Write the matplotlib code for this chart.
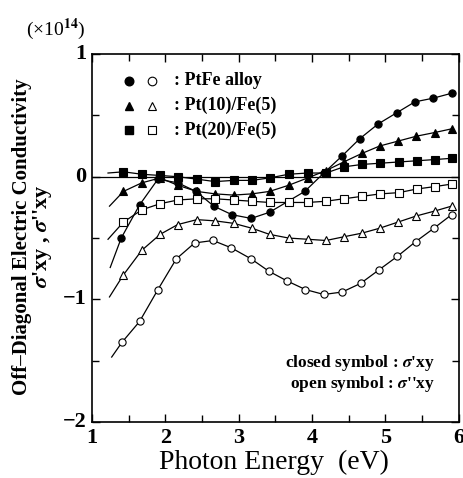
import matplotlib
matplotlib.use("Agg")
import matplotlib.pyplot as plt
from matplotlib.ticker import MultipleLocator

plt.rcParams["font.family"] = ["Liberation Serif", "DejaVu Serif"]
plt.rcParams["font.weight"] = "bold"
plt.rcParams["mathtext.fontset"] = "stix"

# PtFe alloy (first point = start of fitted curve, no marker)
ptfe_e1 = [1.25, 1.40, 1.65, 1.90, 2.17, 2.42, 2.66, 2.91, 3.17, 3.42, 3.90, 4.16,
           4.41, 4.65, 4.90, 5.15, 5.40, 5.65, 5.90]
ptfe_re = [-0.74, -0.50, -0.23, -0.02, -0.05, -0.12, -0.24, -0.31, -0.34, -0.29, -0.12, 0.03,
           0.17, 0.31, 0.43, 0.52, 0.61, 0.64, 0.68]
ptfe_e2 = [1.27, 1.41, 1.65, 1.90, 2.15, 2.40, 2.65, 2.90, 3.17, 3.41, 3.66, 3.91, 4.16,
           4.41, 4.66, 4.91, 5.16, 5.41, 5.66, 5.90]
ptfe_im = [-1.47, -1.35, -1.18, -0.92, -0.67, -0.54, -0.52, -0.58, -0.67, -0.77, -0.85, -0.92, -0.96,
           -0.94, -0.87, -0.76, -0.65, -0.53, -0.42, -0.31]

# Pt(10)/Fe(5)
pt10_e = [1.24, 1.43, 1.68, 1.93, 2.17, 2.43, 2.68, 2.93, 3.18, 3.42, 3.68, 3.94, 4.19,
          4.43, 4.68, 4.92, 5.17, 5.42, 5.67, 5.90]
pt10_re = [-0.24, -0.12, -0.05, -0.01, -0.07, -0.12, -0.14, -0.15, -0.14, -0.12, -0.07, -0.01, 0.05,
           0.12, 0.19, 0.25, 0.29, 0.33, 0.36, 0.39]
pt10_im = [-0.98, -0.80, -0.60, -0.47, -0.39, -0.35, -0.36, -0.38, -0.42, -0.47, -0.50, -0.51, -0.52,
           -0.49, -0.46, -0.42, -0.37, -0.32, -0.28, -0.24]

# Pt(20)/Fe(5)
pt20_e = [1.22, 1.43, 1.68, 1.93, 2.17, 2.43, 2.68, 2.93, 3.18, 3.42, 3.68, 3.94, 4.19,
          4.43, 4.68, 4.93, 5.18, 5.43, 5.68, 5.90]
pt20_re = [0.03, 0.04, 0.02, 0.01, 0.00, -0.02, -0.04, -0.03, -0.03, -0.01, 0.02, 0.03, 0.03,
           0.08, 0.10, 0.11, 0.12, 0.13, 0.14, 0.15]
pt20_im = [-0.51, -0.37, -0.27, -0.22, -0.19, -0.18, -0.18, -0.19, -0.20, -0.21, -0.21, -0.21, -0.20,
           -0.18, -0.16, -0.14, -0.13, -0.10, -0.08, -0.06]

legend_labels = [": PtFe alloy", ": Pt(10)/Fe(5)", ": Pt(20)/Fe(5)"]
markers = ["o", "^", "s"]
x_ticks = [1, 2, 3, 4, 5, 6]
y_ticks = [1, 0, -1, -2]
y_ticklabels = ["1", "0", "\u22121", "\u22122"]

fig = plt.figure(figsize=(4.64, 4.78), dpi=100)
ax = fig.add_axes([0.198, 0.117, 0.791, 0.770])

series = [
    (ptfe_e1, ptfe_re, "o", True),
    (ptfe_e2, ptfe_im, "o", False),
    (pt10_e, pt10_re, "^", True),
    (pt10_e, pt10_im, "^", False),
    (pt20_e, pt20_re, "s", True),
    (pt20_e, pt20_im, "s", False),
]
for e, v, m, filled in series:
    ax.plot(e, v, color="black", lw=0.9, marker=m, markersize=5.2,
            markevery=slice(1, None),
            markerfacecolor="black" if filled else "white",
            markeredgecolor="black", markeredgewidth=0.8)

ax.axhline(0, color="black", lw=0.9)

ax.set_xlim(1, 6)
ax.set_ylim(-2, 1)
ax.xaxis.set_major_locator(MultipleLocator(1))
ax.xaxis.set_minor_locator(MultipleLocator(0.5))
ax.yaxis.set_major_locator(MultipleLocator(1))
ax.yaxis.set_minor_locator(MultipleLocator(0.5))
ax.tick_params(which="both", direction="in", top=True, right=True, width=1.0)
ax.tick_params(which="major", length=6)
ax.tick_params(which="minor", length=5)
ax.set_xticklabels([])
ax.set_yticklabels([])
for xv in x_ticks:
    ax.text(xv, -2.05, str(xv), ha="center", va="top", fontsize=16,
            transform=ax.transData)
for yv, lab in zip(y_ticks, y_ticklabels):
    ax.text(0.93, yv, lab, ha="right", va="center", fontsize=16,
            transform=ax.transData, clip_on=False)
for sp in ax.spines.values():
    sp.set_linewidth(1.2)

# legend drawn by hand
for i, (m, lab) in enumerate(zip(markers, legend_labels)):
    yy = 0.927 - i * 0.067
    ms = 6.2 if m != "s" else 5.4
    ax.plot([0.100], [yy], marker=m, color="black", markersize=ms,
            transform=ax.transAxes, clip_on=False)
    ax.plot([0.163], [yy], marker=m, markerfacecolor="white", markeredgecolor="black",
            markersize=ms, markeredgewidth=0.8, transform=ax.transAxes, clip_on=False)
    ax.text(0.223, yy, lab, ha="left", va="center", fontsize=13,
            transform=ax.transAxes)

ax.text(0.935, 0.160, "closed symbol : $\\sigma$'xy", ha="right", va="center",
        fontsize=12.5, transform=ax.transAxes)
ax.text(0.935, 0.104, "open symbol : $\\sigma$''xy", ha="right", va="center",
        fontsize=12.5, transform=ax.transAxes)

fig.text(0.055, 0.938, "(\u00d710$^{14}$)", ha="left", va="center", fontsize=14,
         weight="normal")
fig.text(0.047, 0.505, "Off\u2013Diagonal Electric Conductivity", rotation=90,
         ha="center", va="center", fontsize=15)
fig.text(0.092, 0.505, "$\\sigma$'xy , $\\sigma$''xy", rotation=90,
         ha="center", va="center", fontsize=16)
fig.text(0.59, 0.033, "Photon Energy  (eV)", ha="center", va="center", fontsize=20,
         weight="normal")

fig.savefig("out.png", dpi=100)
